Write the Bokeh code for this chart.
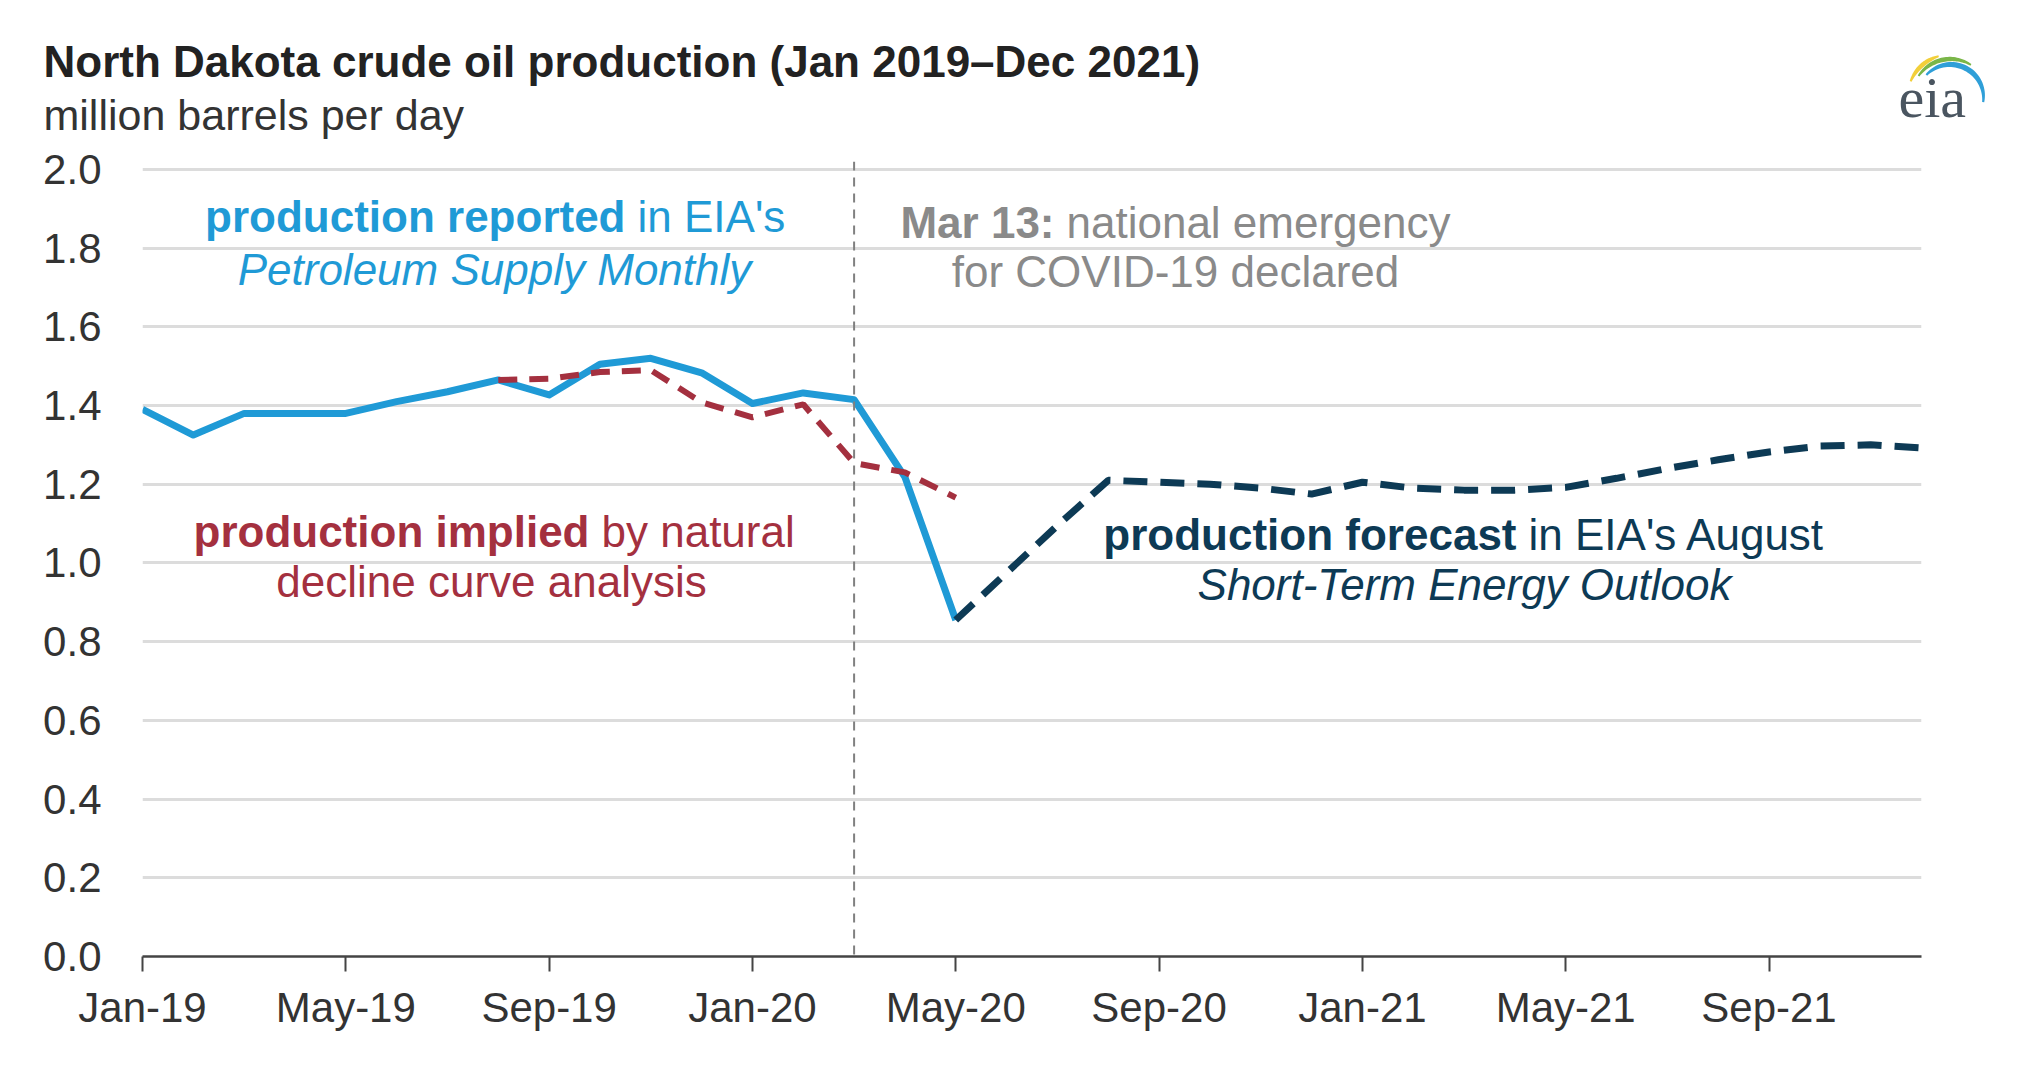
import numpy as np
from bokeh.plotting import figure
from bokeh.layouts import column
from bokeh.models import Range1d, FixedTicker, Label, Span, NumeralTickFormatter
from bokeh.embed import file_html
from bokeh.resources import INLINE

# ---------------- data ----------------
month_labels = ["Jan-19", "Feb-19", "Mar-19", "Apr-19", "May-19", "Jun-19", "Jul-19", "Aug-19",
                "Sep-19", "Oct-19", "Nov-19", "Dec-19", "Jan-20", "Feb-20", "Mar-20", "Apr-20",
                "May-20", "Jun-20", "Jul-20", "Aug-20", "Sep-20", "Oct-20", "Nov-20", "Dec-20",
                "Jan-21", "Feb-21", "Mar-21", "Apr-21", "May-21", "Jun-21", "Jul-21", "Aug-21",
                "Sep-21", "Oct-21", "Nov-21", "Dec-21"]
tick_labels = ["Jan-19", "May-19", "Sep-19", "Jan-20", "May-20", "Sep-20", "Jan-21", "May-21", "Sep-21"]

# production reported in Petroleum Supply Monthly (Jan-19 .. May-20)
reported_months = month_labels[0:17]
reported = [1.39, 1.325, 1.38, 1.38, 1.38, 1.41, 1.435, 1.465, 1.427, 1.505, 1.52, 1.483,
            1.405, 1.432, 1.415, 1.218, 0.855]

# production implied by natural decline curve analysis (Aug-19 .. May-20)
implied_months = month_labels[7:17]
implied = [1.465, 1.468, 1.485, 1.49, 1.408, 1.37, 1.403, 1.254, 1.23, 1.166]

# production forecast in August STEO (May-20 .. Dec-21)
forecast_months = month_labels[16:36]
forecast = [0.855, 0.975, 1.095, 1.21, 1.205, 1.2, 1.19, 1.175, 1.205, 1.19, 1.185, 1.185,
            1.192, 1.215, 1.24, 1.262, 1.282, 1.297, 1.30, 1.292]

event_month = "Mar-20"

# ---------------- layout constants ----------------
idx = {m: i for i, m in enumerate(month_labels)}
FONT = "Liberation Sans"

W, H = 2026, 1082
HH = 140                               # header height
FL, FR, FT, FB = 142, 1921, 161, 956   # frame edges in page pixels
X0, X1 = 0, len(month_labels) - 1
Y0, Y1 = 0.0, 2.02


def px_x(px):
    return X0 + (px - FL) / (FR - FL) * (X1 - X0)


def px_y(py):
    return Y0 + (FB - py) / (FB - FT) * (Y1 - Y0)


# ---------------- header (title, subtitle, logo) ----------------
hdr = figure(width=W, height=HH, output_backend="svg", toolbar_location=None,
             x_range=Range1d(0, W), y_range=Range1d(HH, 0),
             x_axis_type=None, y_axis_type=None,
             min_border=0, min_border_left=0, min_border_right=0, min_border_top=0, min_border_bottom=0)
hdr.frame_align = False
hdr.outline_line_color = None
hdr.grid.grid_line_color = None
hdr.background_fill_color = "white"
hdr.border_fill_color = "white"


def hlabel(text, x, y, color, size, align="left", style="normal", font=FONT, baseline="middle"):
    hdr.add_layout(Label(x=x, y=y, text=text, text_color=color, text_font=font,
                         text_font_size=f"{size}px", text_align=align, text_baseline=baseline,
                         text_font_style=style))


hlabel("North Dakota crude oil production (Jan 2019\u2013Dec 2021)", 43, 61, "#222222", 44, style="bold")
hlabel("million barrels per day", 43, 114, "#333333", 43)
hlabel("eia", 1898, 97, "#4a5560", 58, font="Liberation Serif")


def arc_patch(cx, cy, r, a0, a1, w0, w1, color):
    t = np.linspace(np.radians(a0), np.radians(a1), 40)
    w = np.sin(np.linspace(0.15, np.pi - 0.15, 40)) * (w1 - w0) + w0
    ox = cx + (r + w / 2) * np.cos(t)
    oy = cy - (r + w / 2) * np.sin(t)
    ix = cx + (r - w / 2) * np.cos(t[::-1])
    iy = cy - (r - w / 2) * np.sin(t[::-1])
    hdr.patch(np.concatenate([ox, ix]), np.concatenate([oy, iy]), fill_color=color, line_color=None)


arc_patch(1950, 97, 43, 158, 106, 1.5, 4.5, "#f2cf3a")
arc_patch(1950, 97, 38.5, 146, 58, 1.5, 4.5, "#7ab648")
arc_patch(1950, 97, 33, 137, -8, 1.5, 5.5, "#2f9fd8")

# ---------------- main chart ----------------
p = figure(width=W, height=H - HH, output_backend="svg", toolbar_location=None,
           x_range=Range1d(X0, X1), y_range=Range1d(Y0, Y1),
           min_border_left=FL, min_border_right=W - FR, min_border_top=FT - HH,
           min_border_bottom=H - FB)
p.frame_align = False
p.outline_line_color = None
p.background_fill_color = "white"
p.border_fill_color = "white"

TICK_SIZE = "42px"
yticks = [round(0.2 * i, 1) for i in range(11)]
p.yaxis.ticker = FixedTicker(ticks=yticks)
p.yaxis.formatter = NumeralTickFormatter(format="0.0")
p.yaxis.axis_line_color = None
p.yaxis.major_tick_line_color = None
p.yaxis.minor_tick_line_color = None
p.yaxis.major_label_text_font = FONT
p.yaxis.major_label_text_font_size = TICK_SIZE
p.yaxis.major_label_text_color = "#333333"
p.yaxis.major_label_standoff = 35

p.ygrid.ticker = FixedTicker(ticks=yticks)
p.ygrid.grid_line_color = "#dcdcdc"
p.ygrid.grid_line_width = 3
p.xgrid.grid_line_color = None

xt = [idx[t] for t in tick_labels]
p.xaxis.ticker = FixedTicker(ticks=xt)
p.xaxis.major_label_overrides = {i: t for i, t in zip(xt, tick_labels)}
p.xaxis.axis_line_color = "#444444"
p.xaxis.axis_line_width = 2.5
p.xaxis.major_tick_line_color = "#444444"
p.xaxis.major_tick_line_width = 2
p.xaxis.major_tick_out = 15
p.xaxis.major_tick_in = 0
p.xaxis.minor_tick_line_color = None
p.xaxis.major_label_text_font = FONT
p.xaxis.major_label_text_font_size = TICK_SIZE
p.xaxis.major_label_text_color = "#333333"
p.xaxis.major_label_standoff = 12

# event line
p.add_layout(Span(location=idx[event_month], dimension="height", line_color="#808080",
                  line_width=2, line_dash="9 7"))

BLUE = "#1f9ad6"
RED = "#a4303f"
NAVY = "#0d3a55"
GRAY = "#8a8a8a"

p.line([idx[m] for m in reported_months], reported, line_color=BLUE, line_width=7, line_join="round")
p.line([idx[m] for m in implied_months], implied, line_color=RED, line_width=6, line_dash="19 12")
p.line([idx[m] for m in forecast_months], forecast, line_color=NAVY, line_width=7, line_dash="24 13")


def label(text, px, py, color, size, align="left", style="normal", font=FONT):
    p.add_layout(Label(x=px_x(px), y=px_y(py), text=text, text_color=color, text_font=font,
                       text_font_size=f"{size}px", text_align=align, text_baseline="middle",
                       text_font_style=style))


AS = 44
GAP = 12
# blue annotation
label("production reported", 625, 216, BLUE, AS, align="right", style="bold")
label("in EIA's", 625 + GAP, 216, BLUE, AS)
label("Petroleum Supply Monthly", 494, 269, BLUE, AS, align="center", style="italic")
# gray annotation
label("Mar 13:", 1054, 222, GRAY, AS, align="right", style="bold")
label("national emergency", 1054 + GAP, 222, GRAY, AS)
label("for COVID-19 declared", 1175, 271, GRAY, AS, align="center")
# red annotation
label("production implied", 589, 531, RED, AS, align="right", style="bold")
label("by natural", 589 + GAP, 531, RED, AS)
label("decline curve analysis", 491, 581, RED, AS, align="center")
# navy annotation
label("production forecast", 1516, 534, NAVY, AS, align="right", style="bold")
label("in EIA's August", 1516 + GAP, 534, NAVY, AS)
label("Short-Term Energy Outlook", 1464, 584, NAVY, AS, align="center", style="italic")

layout = column(hdr, p, spacing=0)
open("out.html", "w").write(file_html(layout, INLINE))
